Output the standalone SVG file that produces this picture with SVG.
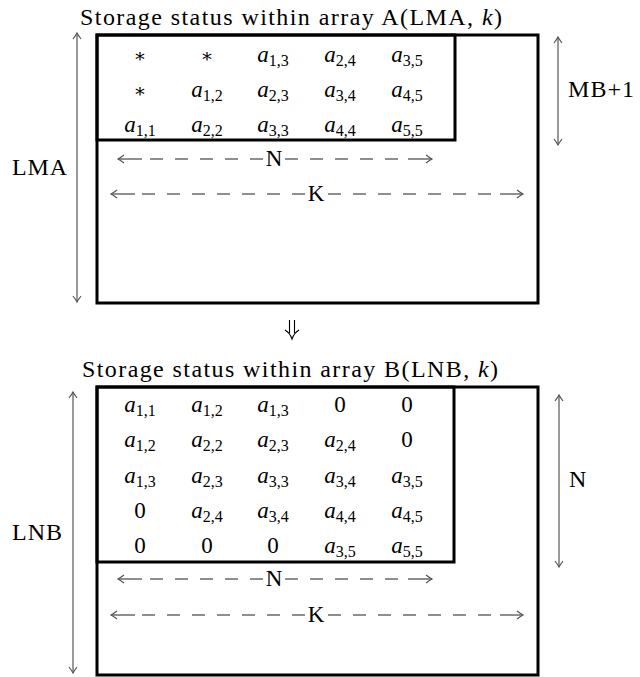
<svg xmlns="http://www.w3.org/2000/svg" width="640" height="677" viewBox="0 0 640 677">
<style>
text{font-family:'Liberation Serif','DejaVu Serif',serif;fill:#000}
.ttl{font-size:24px}
.lbl{font-size:24px}
.nk{font-size:23px;text-anchor:middle}
.m{font-size:23px;text-anchor:middle}
.i{font-style:italic}
.s{font-size:16px}
.ast{font-family:'DejaVu Serif',serif;font-size:19px}
.box{fill:none;stroke:#000;stroke-width:3}
.dim{stroke:#555;stroke-width:1.2;fill:none}
.dash{stroke:#6a6a6a;stroke-width:1.7;stroke-dasharray:13 12;fill:none}
.arw{stroke:#6a6a6a;stroke-width:1.5;fill:none}
</style>
<defs>
<marker id="hd" viewBox="-8 -5 10 10" refX="0" refY="0" markerWidth="10" markerHeight="10" markerUnits="userSpaceOnUse" orient="auto-start-reverse">
<path d="M-6,-4 Q-2,-1 0,0 Q-2,1 -6,4" fill="none" stroke="#555" stroke-width="1.2"/>
</marker>
</defs>

<g id="array-A">
<text class="ttl" x="80" y="25" textLength="422" lengthAdjust="spacing">Storage status within array A(LMA, <tspan class="i">k</tspan>)</text>
<rect class="box" x="97" y="35" width="441" height="268"/>
<rect class="box" x="97" y="35" width="358" height="105"/>
<text class="m" x="140" y="62"><tspan class="ast">∗</tspan></text>
<text class="m" x="207" y="62"><tspan class="ast">∗</tspan></text>
<text class="m" x="273" y="62"><tspan class="i">a</tspan><tspan class="s" dy="4">1,3</tspan></text>
<text class="m" x="340" y="62"><tspan class="i">a</tspan><tspan class="s" dy="4">2,4</tspan></text>
<text class="m" x="407" y="62"><tspan class="i">a</tspan><tspan class="s" dy="4">3,5</tspan></text>
<text class="m" x="140" y="97"><tspan class="ast">∗</tspan></text>
<text class="m" x="207" y="97"><tspan class="i">a</tspan><tspan class="s" dy="4">1,2</tspan></text>
<text class="m" x="273" y="97"><tspan class="i">a</tspan><tspan class="s" dy="4">2,3</tspan></text>
<text class="m" x="340" y="97"><tspan class="i">a</tspan><tspan class="s" dy="4">3,4</tspan></text>
<text class="m" x="407" y="97"><tspan class="i">a</tspan><tspan class="s" dy="4">4,5</tspan></text>
<text class="m" x="140" y="132"><tspan class="i">a</tspan><tspan class="s" dy="4">1,1</tspan></text>
<text class="m" x="207" y="132"><tspan class="i">a</tspan><tspan class="s" dy="4">2,2</tspan></text>
<text class="m" x="273" y="132"><tspan class="i">a</tspan><tspan class="s" dy="4">3,3</tspan></text>
<text class="m" x="340" y="132"><tspan class="i">a</tspan><tspan class="s" dy="4">4,4</tspan></text>
<text class="m" x="407" y="132"><tspan class="i">a</tspan><tspan class="s" dy="4">5,5</tspan></text>
<text class="lbl" x="12" y="175" textLength="55" lengthAdjust="spacing">LMA</text>
<text class="lbl" x="568" y="97" textLength="66" lengthAdjust="spacing">MB+1</text>
<text class="nk" x="274" y="166">N</text>
<text class="nk" x="316" y="201">K</text>
</g>

<g id="array-B">
<text class="ttl" x="82" y="377" textLength="416" lengthAdjust="spacing">Storage status within array B(LNB, <tspan class="i">k</tspan>)</text>
<rect class="box" x="97" y="387" width="441" height="288"/>
<rect class="box" x="97" y="387" width="357" height="175"/>
<text class="m" x="140" y="412"><tspan class="i">a</tspan><tspan class="s" dy="4">1,1</tspan></text>
<text class="m" x="207" y="412"><tspan class="i">a</tspan><tspan class="s" dy="4">1,2</tspan></text>
<text class="m" x="273" y="412"><tspan class="i">a</tspan><tspan class="s" dy="4">1,3</tspan></text>
<text class="m" x="340" y="412">0</text>
<text class="m" x="407" y="412">0</text>
<text class="m" x="140" y="447"><tspan class="i">a</tspan><tspan class="s" dy="4">1,2</tspan></text>
<text class="m" x="207" y="447"><tspan class="i">a</tspan><tspan class="s" dy="4">2,2</tspan></text>
<text class="m" x="273" y="447"><tspan class="i">a</tspan><tspan class="s" dy="4">2,3</tspan></text>
<text class="m" x="340" y="447"><tspan class="i">a</tspan><tspan class="s" dy="4">2,4</tspan></text>
<text class="m" x="407" y="447">0</text>
<text class="m" x="140" y="483"><tspan class="i">a</tspan><tspan class="s" dy="4">1,3</tspan></text>
<text class="m" x="207" y="483"><tspan class="i">a</tspan><tspan class="s" dy="4">2,3</tspan></text>
<text class="m" x="273" y="483"><tspan class="i">a</tspan><tspan class="s" dy="4">3,3</tspan></text>
<text class="m" x="340" y="483"><tspan class="i">a</tspan><tspan class="s" dy="4">3,4</tspan></text>
<text class="m" x="407" y="483"><tspan class="i">a</tspan><tspan class="s" dy="4">3,5</tspan></text>
<text class="m" x="140" y="518">0</text>
<text class="m" x="207" y="518"><tspan class="i">a</tspan><tspan class="s" dy="4">2,4</tspan></text>
<text class="m" x="273" y="518"><tspan class="i">a</tspan><tspan class="s" dy="4">3,4</tspan></text>
<text class="m" x="340" y="518"><tspan class="i">a</tspan><tspan class="s" dy="4">4,4</tspan></text>
<text class="m" x="407" y="518"><tspan class="i">a</tspan><tspan class="s" dy="4">4,5</tspan></text>
<text class="m" x="140" y="553">0</text>
<text class="m" x="207" y="553">0</text>
<text class="m" x="273" y="553">0</text>
<text class="m" x="340" y="553"><tspan class="i">a</tspan><tspan class="s" dy="4">3,5</tspan></text>
<text class="m" x="407" y="553"><tspan class="i">a</tspan><tspan class="s" dy="4">5,5</tspan></text>
<text class="lbl" x="12" y="540" textLength="50" lengthAdjust="spacing">LNB</text>
<text class="lbl" x="569" y="487">N</text>
<text class="nk" x="274" y="586">N</text>
<text class="nk" x="316" y="622">K</text>
</g>

<g id="connectors">
<line class="dim" x1="77" y1="33" x2="77" y2="302" marker-start="url(#hd)" marker-end="url(#hd)"/>
<line class="dim" x1="558" y1="37" x2="558" y2="145" marker-start="url(#hd)" marker-end="url(#hd)"/>
<line class="dim" x1="73" y1="392" x2="73" y2="673" marker-start="url(#hd)" marker-end="url(#hd)"/>
<line class="dim" x1="559" y1="395" x2="559" y2="567" marker-start="url(#hd)" marker-end="url(#hd)"/>
<line class="arw" x1="142" y1="159" x2="118" y2="159" marker-end="url(#hd)"/>
<line class="dash" x1="150" y1="159" x2="263" y2="159"/>
<line class="dash" x1="285" y1="159" x2="398" y2="159"/>
<line class="arw" x1="408" y1="159" x2="432" y2="159" marker-end="url(#hd)"/>
<line class="arw" x1="135" y1="194" x2="111" y2="194" marker-end="url(#hd)"/>
<line class="dash" x1="142" y1="194" x2="305" y2="194"/>
<line class="dash" x1="328" y1="194" x2="491" y2="194"/>
<line class="arw" x1="500" y1="194" x2="523" y2="194" marker-end="url(#hd)"/>
<line class="arw" x1="142" y1="579" x2="118" y2="579" marker-end="url(#hd)"/>
<line class="dash" x1="150" y1="579" x2="263" y2="579"/>
<line class="dash" x1="285" y1="579" x2="398" y2="579"/>
<line class="arw" x1="408" y1="579" x2="432" y2="579" marker-end="url(#hd)"/>
<line class="arw" x1="135" y1="615" x2="111" y2="615" marker-end="url(#hd)"/>
<line class="dash" x1="142" y1="615" x2="305" y2="615"/>
<line class="dash" x1="328" y1="615" x2="491" y2="615"/>
<line class="arw" x1="500" y1="615" x2="523" y2="615" marker-end="url(#hd)"/>
<path d="M289.5,320 V333 M294.5,320 V333 M285,330 Q290,333 292,339 Q294,333 299,330" fill="none" stroke="#000" stroke-width="1.1"/>
</g>
</svg>
